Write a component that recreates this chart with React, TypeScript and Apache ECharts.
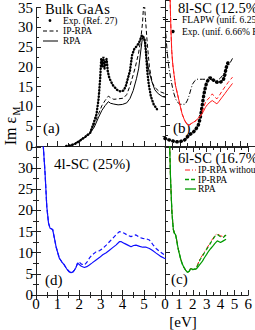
import React, { useEffect, useRef } from "react";
import * as echarts from "echarts";

// ---- Panel (a) Bulk GaAs ----
const aExpE = [1.4, 1.6, 1.8, 2.0, 2.2, 2.5, 2.65, 2.8, 2.9, 2.97, 3.02, 3.07, 3.12, 3.17, 3.22, 3.27, 3.32, 3.38, 3.45, 3.58, 3.75, 3.9, 4.05, 4.15, 4.25, 4.35, 4.45, 4.55, 4.7, 4.8, 4.9, 4.98, 5.05, 5.1, 5.15, 5.22, 5.32, 5.45, 5.6];
const aExpV = [0, 0.2, 0.5, 1.2, 2.0, 3.2, 5.5, 8, 12, 17, 22, 20, 22.5, 19.5, 21.5, 22, 19, 17.5, 16.5, 15.2, 14.2, 13.8, 14, 15, 17, 19, 23, 24.5, 25.5, 26.5, 28, 27.5, 26.5, 23, 19, 15.5, 12.5, 10.5, 9.3];
const aIpE = [1.5, 1.7, 1.9, 2.1, 2.3, 2.5, 2.7, 2.9, 3.05, 3.2, 3.35, 3.45, 3.6, 3.8, 4.05, 4.2, 4.35, 4.5, 4.6, 4.75, 4.85, 4.93, 4.98, 5.02, 5.07, 5.15, 5.25, 5.38, 5.5, 5.7, 6.0];
const aIpV = [0, 0.3, 1.0, 1.8, 2.6, 3.5, 5.5, 8.2, 10.2, 11.5, 12.6, 12.2, 11.8, 11.9, 12.1, 13, 15.2, 18, 20, 23.5, 27, 31, 35.5, 36, 32, 26, 20, 16, 14.8, 13.8, 13.2];
const aRpaE = [1.5, 1.7, 1.9, 2.1, 2.3, 2.5, 2.7, 2.9, 3.05, 3.2, 3.35, 3.45, 3.6, 3.8, 4.0, 4.2, 4.35, 4.5, 4.65, 4.75, 4.85, 4.92, 4.97, 5.05, 5.12, 5.25, 5.36, 5.5, 5.66, 5.85, 6.0];
const aRpaV = [0, 0.3, 1.0, 1.6, 2.3, 3.2, 4.8, 7.3, 9.0, 10.2, 11.2, 10.8, 10.6, 10.4, 10.5, 10.9, 12, 14, 17, 19.5, 24, 27, 27.8, 25.5, 22, 18.5, 16.4, 14.2, 13.2, 12.5, 12.3];

// ---- Panel (b) 8l-SC (12.5%) ----
const bFlapwE = [0.05, 0.14, 0.25, 0.37, 0.5, 0.6, 0.72, 0.83, 1.0, 1.35, 1.5, 1.6, 1.72, 1.83, 2.0, 2.14, 2.5, 3.0, 3.2, 3.46, 3.7, 3.9, 4.2, 4.5];
const bFlapwV = [27, 22.7, 19, 16.4, 14, 12.5, 11.2, 10.5, 10, 10, 11, 12, 13.5, 14.8, 15.7, 16, 16, 16, 15.8, 15.6, 16.3, 17.2, 19, 21];
const bExpE = [0.0, 0.2, 0.37, 0.6, 0.83, 1.05, 1.3, 1.45, 1.6, 1.75, 1.91, 2.05, 2.22, 2.3, 2.38, 2.45, 2.53, 2.6, 2.69, 2.76, 2.84, 3.0, 3.15, 3.3, 3.45, 3.6, 3.75, 3.9, 4.0, 4.07, 4.2];
const bExpV = [1.8, 1.5, 1.4, 1.1, 1.0, 1.1, 1.4, 2.0, 2.6, 3.0, 3.4, 4.0, 5.0, 6, 7.3, 9, 10.9, 12.5, 14, 15, 15.6, 16.4, 16.0, 15.6, 15.3, 15.2, 15.4, 16.0, 17.2, 18.7, 20];
const bLowE = [0.33, 0.37, 0.4, 0.45, 0.52, 0.6, 0.7, 0.83, 1.0, 1.14, 1.3, 1.45, 1.53, 1.65, 1.76, 1.9, 2.07, 2.2, 2.38];
const bLowV = [37, 31, 27.4, 22.7, 19.5, 17.2, 14.5, 12.5, 9.8, 7.7, 6.2, 5.3, 5.0, 5.1, 5.4, 5.7, 6.1, 6.6, 7.3];
const bHighE = [2.55, 2.7, 2.85, 3.0, 3.15, 3.3, 3.46, 3.6, 3.81, 4.0, 4.2, 4.5];
const bIpV = [9.0, 10.5, 11.2, 11.7, 12.5, 11.8, 11.3, 12, 13.2, 14.2, 15.2, 16.5];
const bRpaV = [8.2, 9.3, 10, 10.5, 10.9, 10.5, 10.1, 10.7, 11.7, 12.6, 13.6, 15];

// ---- Panel (d) 4l-SC (25%) ----
const dLowE = [0.3, 0.34, 0.42, 0.5, 0.58, 0.65, 0.77, 0.85, 0.93, 1.08, 1.2, 1.31, 1.42, 1.54, 1.62, 1.7, 1.78, 1.85, 1.93];
const dLowV = [37, 35, 28.8, 20.9, 17, 15.8, 15.5, 13.5, 11.4, 8.7, 7.8, 7.1, 6.2, 5.5, 5.3, 5.4, 5.9, 6.5, 7.6];
const dHighE = [2.0, 2.1, 2.24, 2.35, 2.47, 2.6, 2.78, 2.95, 3.09, 3.25, 3.4, 3.55, 3.7, 3.86, 3.95, 4.09, 4.25, 4.4, 4.52, 4.63, 4.8, 4.94, 5.1, 5.25, 5.4, 5.56, 5.75, 5.94, 6.0];
const dIpV = [7.8, 7.3, 7.1, 7.7, 8.7, 9.5, 10.2, 10.5, 11, 11.8, 12.6, 13.4, 14.2, 15, 14.9, 14.6, 14.1, 13.8, 14.1, 14.2, 13.6, 13.4, 13.3, 13, 12, 11, 10.2, 9.5, 9.3];
const dRpaV = [7.2, 6.8, 6.5, 6.7, 7.1, 7.6, 8.3, 8.9, 9.5, 10, 10.6, 11.2, 11.8, 12.6, 12.6, 12.2, 11.8, 11.4, 11.7, 11.8, 11.5, 11.3, 11.3, 11, 10.5, 9.9, 9.2, 8.7, 8.6];

// ---- Panel (c) 6l-SC (16.7%) ----
const cLowE = [0.3, 0.34, 0.4, 0.5, 0.6, 0.68, 0.76, 0.83, 0.91, 1.0, 1.14, 1.25, 1.37, 1.5, 1.6, 1.7, 1.76, 1.83, 1.92, 2.0, 2.1, 2.22];
const cLowV = [37, 35, 27.4, 19.5, 15.5, 14.6, 14.3, 13.2, 11.6, 10.2, 8.4, 7.3, 6.5, 5.8, 5.4, 5.5, 5.7, 6.2, 6.2, 6.0, 6.1, 6.1];
const cHighE = [2.35, 2.53, 2.7, 2.84, 3.0, 3.15, 3.3, 3.46, 3.6, 3.77, 3.9, 4.0, 4.2, 4.4];
const cNoLfeV = [7.2, 8.6, 9.4, 10.2, 11.0, 11.8, 12.6, 13.4, 14.1, 14.5, 14.2, 14.0, 13.8, 14.4];
const cIpV = [7.0, 8.4, 9.2, 10, 10.8, 11.6, 12.4, 13.2, 13.9, 14.3, 14.0, 13.8, 13.6, 14.2];
const cRpaV = [6.5, 7.3, 8.0, 8.8, 9.6, 10.4, 11.0, 11.6, 12.2, 12.8, 12.6, 12.4, 12.8, 13.2];

const xTicks = [0, 1, 2, 3, 4, 5, 6];
const yTicks = [0, 5, 10, 15, 20, 25, 30, 35];

const FONT = "Liberation Serif";
const RED = "#ff1a1a";
const GREEN = "#009a00";
const BLUE = "#1010ff";
const AX = "#222";

const zip = (e: number[], v: number[]) => e.map((x, i) => [x, v[i]]);

export default function App() {
  const ref = useRef<HTMLDivElement>(null);
  useEffect(() => {
    if (!ref.current) return;
    const chart = echarts.init(ref.current, undefined, { renderer: "svg" });
    const PX = 21.6 * (xTicks.length - 1);
    const PY = 148;
    const grids = [
      { left: 36, top: -2, width: PX, height: PY },
      { left: 165, top: -2, width: PX, height: PY },
      { left: 36, top: 147, width: PX, height: PY },
      { left: 165, top: 147, width: PX, height: PY },
    ];
    const axLine = { show: true, lineStyle: { color: AX, width: 1 } };
    const tick = { show: true, inside: true, length: 5, lineStyle: { color: AX } };
    const minor = { show: true, splitNumber: 2, length: 3, lineStyle: { color: AX } };
    const mkX = (g: number, labels: boolean, pos = "bottom", showMax = false) => ({
      type: "value", gridIndex: g, position: pos, min: xTicks[0], max: xTicks[xTicks.length - 1], interval: 1,
      axisLine: axLine, axisTick: tick, minorTick: minor, splitLine: { show: false },
      axisLabel: { show: labels, fontFamily: FONT, fontSize: 15, color: "#000", margin: 1, showMaxLabel: showMax },
    });
    const mkY = (g: number, labels: boolean, pos = "left", showMax = true) => ({
      type: "value", gridIndex: g, position: pos, min: yTicks[0], max: yTicks[yTicks.length - 1], interval: 5,
      axisLine: axLine, axisTick: tick, minorTick: minor, splitLine: { show: false },
      axisLabel: { show: labels, fontFamily: FONT, fontSize: 15, color: "#000", margin: 3, showMaxLabel: showMax },
    });
    const line = (xi: number, yi: number, data: number[][], color: string, type: any = "solid", extra: any = {}) => ({
      type: "line", xAxisIndex: xi, yAxisIndex: yi, data, symbol: "none", smooth: false, silent: true,
      lineStyle: { color, width: 1, type, ...extra },
    });
    const dots = (xi: number, yi: number, data: number[][], w: number, gap: number) => ({
      type: "line", xAxisIndex: xi, yAxisIndex: yi, data, symbol: "none", smooth: false, silent: true,
      lineStyle: { color: "#000", width: w, type: [0.5, gap], cap: "round" },
    });
    const dash = [4, 2.5];
    const dashDot = [5, 2, 1, 2];
    const txt = (x: number, y: number, text: string, size: number, extra: any = {}) => ({
      type: "text", x, y, silent: true,
      style: { text, fontFamily: FONT, fontSize: size, fill: "#000", textVerticalAlign: "middle", ...extra },
    });
    const seg = (x1: number, x2: number, y: number, color: string, lineDash: any = null, w = 1) => ({
      type: "line", silent: true, shape: { x1, y1: y, x2, y2: y },
      style: { stroke: color, lineWidth: w, lineDash },
    });
    chart.setOption({
      animation: false,
      grid: grids,
      xAxis: [mkX(0, false), mkX(1, false), mkX(2, true), mkX(3, true, "bottom", true), mkX(2, false, "top"), mkX(3, false, "top")],
      yAxis: [mkY(0, true), mkY(1, false), mkY(2, true, "left", false), mkY(3, false), mkY(0, false, "right"), mkY(2, false, "right")],
      series: [
        // (a)
        dots(0, 0, zip(aExpE, aExpV), 2.4, 2.6),
        line(0, 0, zip(aIpE, aIpV), "#000", dash),
        line(0, 0, zip(aRpaE, aRpaV), "#000"),
        // (b)
        line(1, 1, zip(bFlapwE, bFlapwV), "#000", dashDot),
        dots(1, 1, zip(bExpE, bExpV), 3.4, 3.6),
        line(1, 1, zip([...bLowE, ...bHighE], [...bLowV, ...bIpV]), RED, dash),
        line(1, 1, zip([...bLowE, ...bHighE], [...bLowV, ...bRpaV]), RED),
        // (d)
        line(2, 2, zip([...dLowE, ...dHighE], [...dLowV, ...dIpV]), BLUE, dash, { width: 1.2 }),
        line(2, 2, zip([...dLowE, ...dHighE], [...dLowV, ...dRpaV]), BLUE, "solid", { width: 1.2 }),
        // (c)
        line(3, 3, zip([...cLowE, ...cHighE], [...cLowV, ...cNoLfeV]), RED, dashDot),
        line(3, 3, zip([...cLowE, ...cHighE], [...cLowV, ...cIpV]), GREEN, dash, { width: 1.2 }),
        line(3, 3, zip([...cLowE, ...cHighE], [...cLowV, ...cRpaV]), GREEN, "solid", { width: 1.2 }),
      ],
      graphic: [
        // y axis title (rotated)
        {
          type: "text", x: 10, y: 131, rotation: Math.PI / 2, silent: true,
          style: { text: "Im ε", fontFamily: FONT, fontSize: 16, fill: "#000", textAlign: "center", textVerticalAlign: "middle" },
        },
        {
          type: "text", x: 16, y: 111, rotation: Math.PI / 2, silent: true,
          style: { text: "M", fontFamily: FONT, fontSize: 10, fill: "#000", textAlign: "center", textVerticalAlign: "middle" },
        },
        // panel (a) legend
        txt(45, 9, "Bulk GaAs", 14.5),
        { type: "circle", silent: true, shape: { cx: 50, cy: 20.5, r: 1.4 }, style: { fill: "#000" } },
        txt(63, 20.5, "Exp. (Ref. 27)", 9.5),
        seg(43, 58, 31, "#000", [4, 2.5]),
        txt(63, 31, "IP-RPA", 9.5),
        seg(43, 58, 41, "#000"),
        txt(63, 41, "RPA", 9.5),
        txt(43, 128, "(a)", 15),
        // panel (b)
        txt(178, 8, "8l-SC (12.5%)", 14.5),
        seg(163, 177, 19.5, "#000", [5, 2, 1, 2]),
        txt(182, 19.5, "FLAPW (unif. 6.25%)", 9.5),
        { type: "circle", silent: true, shape: { cx: 173, cy: 31.5, r: 1.7 }, style: { fill: "#000" } },
        txt(182, 32, "Exp. (unif. 6.66% Ref.)", 9.5),
        txt(173, 128, "(b)", 15),
        // panel (d)
        txt(54, 164, "4l-SC (25%)", 15),
        txt(45, 280, "(d)", 15),
        // panel (c)
        txt(178, 158, "6l-SC (16.7%)", 14.5),
        seg(185, 196, 170, RED, [5, 2, 1, 2]),
        txt(198, 170, "IP-RPA without LFE", 9.5),
        seg(185, 196, 179.5, GREEN, [4, 2], 1.3),
        txt(198, 179.5, "IP-RPA", 9.5),
        seg(185, 196, 189, GREEN, null, 1.3),
        txt(198, 189, "RPA", 9.5),
        txt(171, 279, "(c)", 15),
        // x axis title
        txt(183, 322, "[eV]", 15, { textAlign: "center" }),
      ],
    });
    return () => chart.dispose();
  }, []);
  return <div ref={ref} style={{ position: "fixed", left: 0, top: 0, width: 255, height: 330, background: "#fff" }} />;
}
